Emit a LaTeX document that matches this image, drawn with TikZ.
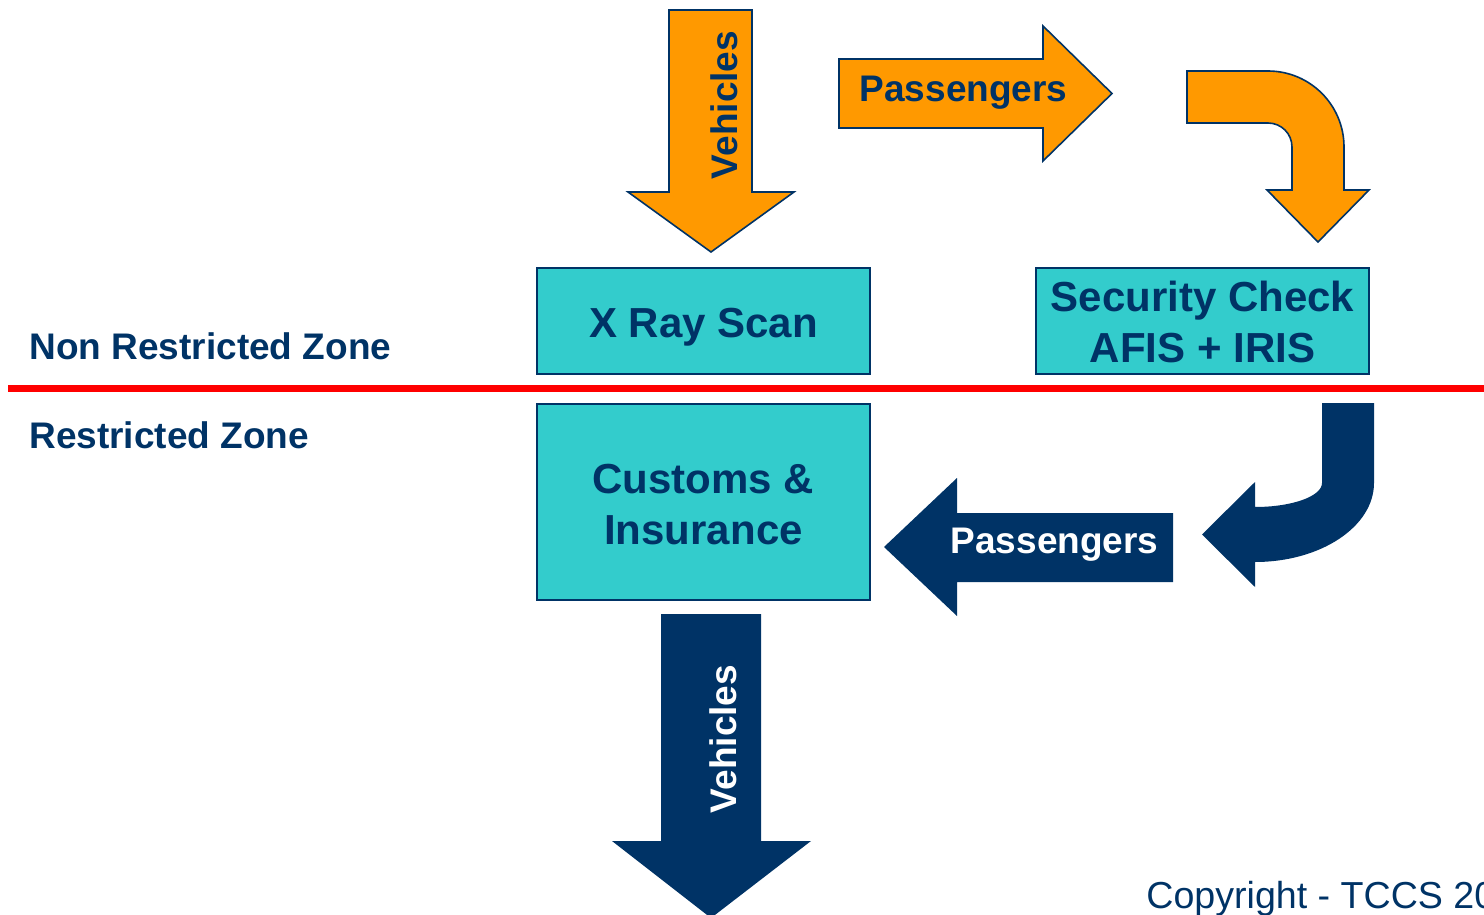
\documentclass[tikz,border=0pt]{standalone}
\usepackage{fontspec}
\setmainfont{Liberation Sans}
\definecolor{flowOrange}{HTML}{FF9900}
\definecolor{flowNavy}{HTML}{003366}
\definecolor{stationTeal}{HTML}{33CCCC}
\definecolor{zoneRed}{HTML}{FF0000}
\begin{document}
\begin{tikzpicture}[x=0.5pt,y=-0.5pt,
  stationbox/.style={draw=flowNavy, line width=1pt, fill=stationTeal, inner sep=0pt},
  orangearrow/.style={draw=flowNavy, line width=0.8pt, fill=flowOrange, line join=miter},
  navyarrow/.style={fill=flowNavy},
  boxlabel/.style={inner sep=0pt, anchor=base, text=flowNavy, font=\bfseries\fontsize{21pt}{25pt}\selectfont},
  arrowlabel/.style={inner sep=0pt, anchor=base, font=\bfseries\fontsize{18.5pt}{22pt}\selectfont},
  zonelabel/.style={inner sep=0pt, anchor=base west, text=flowNavy, font=\bfseries\fontsize{18.5pt}{22pt}\selectfont}
]
\useasboundingbox (0,0) rectangle (1484,915);

% zone boundary
\coordinate (lineL) at (8,388.5);
\coordinate (lineR) at (1484,388.5);
\draw[zoneRed, line width=3.6pt] (lineL) -- (lineR);

% zone names
\node[zonelabel] (nonrestricted) at (29,359) {Non Restricted Zone};
\node[zonelabel] (restricted) at (29,448) {Restricted Zone};

% stations
\node[stationbox, minimum width=166.5pt, minimum height=53pt] (xray) at (703.5,320.5) {};
\node[stationbox, minimum width=166.5pt, minimum height=53pt] (security) at (1202.5,321) {};
\node[stationbox, minimum width=166.5pt, minimum height=98pt] (customs) at (703.5,502) {};

\node[boxlabel] (xraytext) at (703.5,337) {X Ray Scan};
\node[boxlabel] (sectext1) at (1202.5,311) {Security Check};
\node[boxlabel] (sectext2) at (1202.5,362) {AFIS + IRIS};
\node[boxlabel] (custext1) at (703.5,493) {Customs \&};
\node[boxlabel] (custext2) at (703.5,544) {Insurance};

% vehicles entering
\draw[orangearrow] (669,10) -- (752,10) -- (752,192) -- (794,192) -- (711,252)
  -- (628,192) -- (669,192) -- cycle;
\node[arrowlabel, text=flowNavy, rotate=90] (vehin) at (737,105) {Vehicles};

% passengers entering
\draw[orangearrow] (839,59) -- (1043,59) -- (1043,26) -- (1112,93.5) -- (1043,161)
  -- (1043,128) -- (839,128) -- cycle;
\node[arrowlabel, text=flowNavy] (passin) at (963.5,102) {Passengers};

% bend down to the security check
\draw[orangearrow] (1187,71) -- (1268,71) .. controls (1310,71) and (1344,105) .. (1344,147)
  -- (1344,190) -- (1369,190) -- (1318,242) -- (1267,190) -- (1292,190) -- (1292,147)
  .. controls (1292,133.7) and (1281.3,123) .. (1268,123) -- (1187,123) -- cycle;

% bend back from the security check
\fill[navyarrow] (1374,403) -- (1374,483) .. controls (1374,526.6) and (1320.7,562) .. (1255,562)
  -- (1255,587) -- (1202,534.5) -- (1255,482) -- (1255,507)
  .. controls (1292,507) and (1322,496.3) .. (1322,483) -- (1322,403) -- cycle;

% passengers to customs
\fill[navyarrow] (1173,513) -- (957,513) -- (957,478) -- (884,547) -- (957,616)
  -- (957,582) -- (1173,582) -- cycle;
\node[arrowlabel, text=white] (passout) at (1054.5,553) {Passengers};

% vehicles leaving
\fill[navyarrow] (661,614) -- (761,614) -- (761,841) -- (811,841) -- (711,918)
  -- (612,841) -- (661,841) -- cycle;
\node[arrowlabel, text=white, rotate=90] (vehout) at (736,739) {Vehicles};

% footer
\node[inner sep=0pt, anchor=base west, text=flowNavy, font=\fontsize{18.8pt}{22pt}\selectfont]
  (copyright) at (1146,908) {Copyright - TCCS 20};
\end{tikzpicture}
\end{document}
